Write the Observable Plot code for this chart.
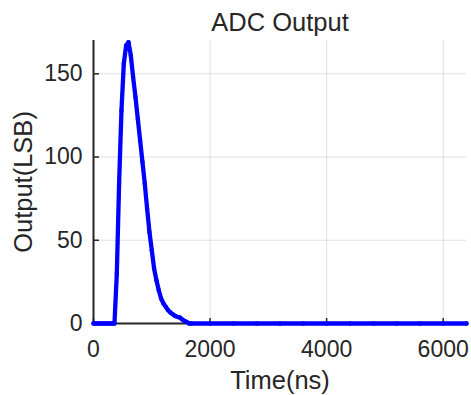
<!DOCTYPE html>
<html><head><meta charset="utf-8">
<script src="https://cdn.jsdelivr.net/npm/d3@7"></script>
<script src="https://cdn.jsdelivr.net/npm/@observablehq/plot@0.6"></script>
<style>body{margin:0;background:#fff} svg{display:block}</style>
</head><body><div id="chart"></div>
<script>
const titleText = "ADC Output";
const xLabel = "Time(ns)";
const yLabel = "Output(LSB)";
const xTicks = [0, 2000, 4000, 6000];
const yTicks = [0, 50, 100, 150];
const timeNs = [0,40,80,120,160,200,240,280,320,360,
  400,440,480,520,560,600,640,680,720,760,800,840,880,920,960,1000,1040,1080,1120,1160,
  1200,1240,1280,1320,1360,1400,1440,1480,1520,1560,1600,1640,1680,
  2000,2400,2800,3200,3600,4000,4400,4800,5200,5600,6000,6400];
const outputLSB = [0,0,0,0,0,0,0,0,0,0,
  30,85,128,156,167,169,161,148,136,123,110,97,84,69,55,44,33,26,20,15,
  12,10,8,6.6,5.5,4.5,4,3.6,2.5,1.6,0.9,0,0,
  0,0,0,0,0,0,0,0,0,0,0,0];

const data = timeNs.map((t, i) => ({t, v: outputLSB[i]}));
const ink = "#262626";
const fmt = d => String(d);

const chart = Plot.plot({
  width: 471, height: 395,
  marginLeft: 93, marginRight: 5, marginTop: 40, marginBottom: 72,
  style: {fontFamily: "'Liberation Sans', Arial, Helvetica, sans-serif", background: "#fff", color: ink},
  x: {domain: [0, 6400]},
  y: {domain: [0, 170]},
  marks: [
    Plot.gridX(xTicks, {stroke: "#000", strokeOpacity: 0.12, strokeWidth: 1}),
    Plot.gridY(yTicks, {stroke: "#000", strokeOpacity: 0.12, strokeWidth: 1}),
    Plot.ruleX([0], {stroke: ink, strokeWidth: 2}),
    Plot.ruleY([0], {stroke: ink, strokeWidth: 2}),
    Plot.axisX(xTicks, {tickSize: 5, dy: -5, tickFormat: () => "", label: null, stroke: ink, strokeWidth: 1.5}),
    Plot.axisY(yTicks, {tickSize: 6, dx: 6, tickFormat: () => "", label: null, stroke: ink, strokeWidth: 1.5}),
    Plot.axisX(xTicks, {tickSize: 0, tickPadding: 17, tickFormat: fmt, label: null, fontSize: 23, fill: ink}),
    Plot.axisY(yTicks, {tickSize: 0, tickPadding: 11, tickFormat: fmt, label: null, fontSize: 23, fill: ink}),
    Plot.line(data, {x: "t", y: "v", stroke: "#0000ff", strokeWidth: 4.3, strokeLinejoin: "round", strokeLinecap: "round"}),
    Plot.dot(data, {x: "t", y: "v", r: 2.2, fill: "#0000ff", stroke: null}),
    Plot.text([titleText], {text: d => d, frameAnchor: "top", lineAnchor: "middle", textAnchor: "middle", dy: -18, fontSize: 25.5, fill: ink}),
    Plot.text([xLabel], {text: d => d, frameAnchor: "bottom", lineAnchor: "middle", textAnchor: "middle", dy: 57, fontSize: 25.5, fill: ink}),
    Plot.text([yLabel], {text: d => d, frameAnchor: "left", lineAnchor: "middle", textAnchor: "middle", rotate: -90, dx: -70, fontSize: 25.5, fill: ink})
  ]
});
document.getElementById("chart").appendChild(chart);
</script>
</body></html>
